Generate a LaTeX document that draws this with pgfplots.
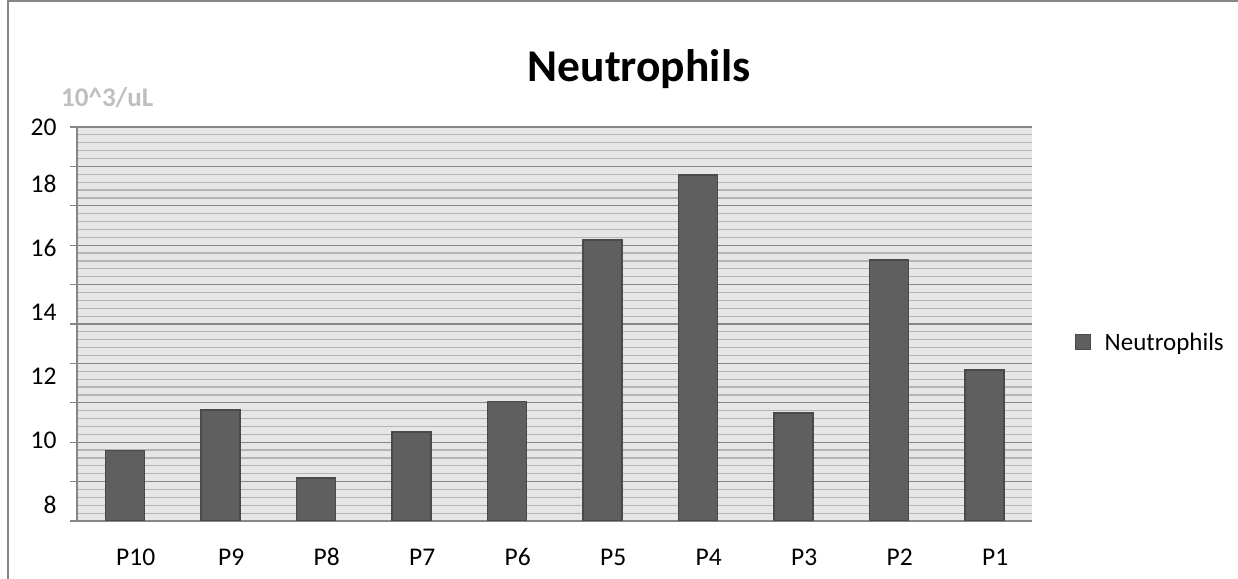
\documentclass[border=0pt]{standalone}
\usepackage{pgfplots}
\pgfplotsset{compat=1.18}
\usepackage{fontspec}
\setmainfont{Carlito}
\definecolor{barfill}{HTML}{5F5F5F}
\definecolor{baredge}{HTML}{4A4A4A}
\definecolor{bg}{HTML}{E6E6E6}
\definecolor{majorg}{HTML}{868686}
\definecolor{minorg}{HTML}{B4B4B4}
\definecolor{unitc}{HTML}{BFBFBF}
\begin{document}
\begin{tikzpicture}[x=1bp,y=1bp]
\path[use as bounding box] (0,0) rectangle (1238,579);
\draw[color=majorg, line width=1.5bp] (8,0) -- (8,578) -- (1238,578);
\node[anchor=base, font=\fontsize{45.5bp}{50bp}\selectfont\bfseries] at (639,497) {Neutrophils};
\node[anchor=base west, inner sep=0, text=unitc, font=\fontsize{27bp}{30bp}\selectfont\bfseries] at (61,472.5) {10\textasciicircum3/uL};
\begin{axis}[
  at={(77bp,58bp)}, anchor=south west, scale only axis,
  width=955bp, height=394bp,
  xmin=0.5, xmax=10.5, ymin=7.5, ymax=19.78,
  axis lines=left, axis line style={-, color=majorg, line width=1.2bp},
  axis background/.style={fill=bg},
  ytick={7.5,8.728,9.956,11.184,12.412,13.64,14.868,16.096,17.324,18.552,19.78},
  yticklabels={},
  minor y tick num=4,
  ymajorgrids, yminorgrids,
  major grid style={color=majorg, line width=1.3bp},
  minor grid style={color=minorg, line width=1.2bp},
  minor tick length=0pt,
  tick align=outside,
  major tick length=7bp,
  tick style={color=majorg, line width=1.2bp},
  xtick={1,...,10},
  xticklabels={P10,P9,P8,P7,P6,P5,P4,P3,P2,P1},
  x tick style={draw=none},
  extra x ticks={0.5,1.5,2.5,3.5,4.5,5.5,6.5,7.5,8.5,9.5,10.5},
  extra x tick labels={},
  extra x tick style={grid=none, major tick length=8bp, tick style={draw=majorg}},
  extra y ticks={8,10,12,14,16,18,19.78},
  extra y tick labels={8,10,12,14,16,18,20},
  extra y tick style={grid=none, major tick length=0pt, yticklabel style={xshift=-17bp}},
  tick label style={font=\fontsize{25.5bp}{30bp}\selectfont},
  xticklabel style={yshift=-18bp, xshift=11bp, text height=16bp, text depth=0bp},
  /pgf/number format/assume math mode=true,
  ybar, bar width=39bp,
  legend style={draw=none, fill=none, at={(1.045,0.452)}, anchor=west, inner sep=0pt,
    font=\fontsize{25bp}{30bp}\selectfont, legend cell align=left},
  legend image code/.code={\draw[fill=barfill, draw=baredge, line width=1bp] (0bp,-7bp) rectangle (15bp,8bp); \path[draw=none, fill=none] (0bp,0bp) rectangle (27bp,0.1bp);},
]
\addplot[fill=barfill, draw=baredge, line width=1.5bp] coordinates {
(1,9.69) (2,10.96) (3,8.84) (4,10.28) (5,11.22) (6,16.26) (7,18.28) (8,10.87) (9,15.63) (10,12.21)};
\addlegendentry{Neutrophils}
\end{axis}
\end{tikzpicture}
\end{document}
